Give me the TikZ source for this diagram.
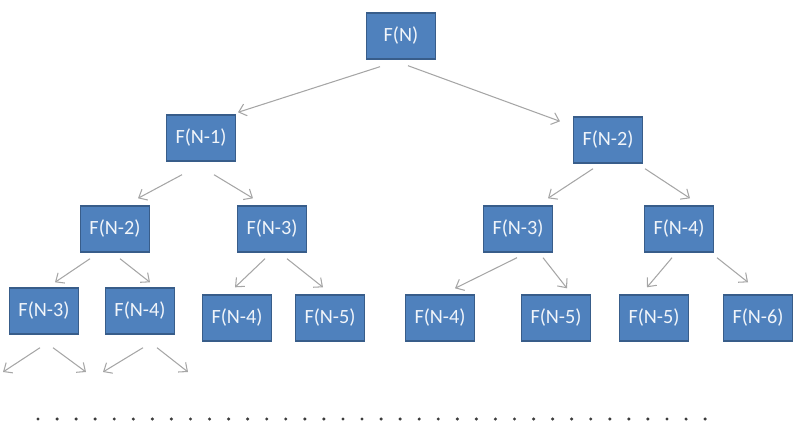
\documentclass[tikz,border=0pt]{standalone}
\usepackage{fontspec}
\setmainfont{Carlito}
\usetikzlibrary{arrows.meta,calc}
\definecolor{boxblue}{HTML}{4F81BD}
\definecolor{boxedge}{HTML}{385D8A}
\definecolor{arrgray}{HTML}{A6A6A6}
\definecolor{dotgray}{HTML}{3C3C3C}

\begin{document}
\begin{tikzpicture}[x=0.02cm, y=-0.02cm,
  call/.style={draw=boxedge, fill=boxblue, line width=0.8pt, text=white!92!boxblue, font=\fontsize{11.5}{13}\selectfont, minimum width=1.38cm, minimum height=0.92cm, inner sep=0pt},
  arr/.style={draw=arrgray, line width=0.6pt, -{Straight Barb[length=4pt,width=7pt]}}
]
\useasboundingbox (0,0) rectangle (800,436);

% call tree
\node[call] (fN) at (401,36) {F(N)};
\node[call] (fN1) at (201,138) {F(N-1)};
\node[call] (fN2) at (608,140) {F(N-2)};
\node[call] (fA2) at (115,229) {F(N-2)};
\node[call] (fA3) at (272,229) {F(N-3)};
\node[call] (fB3) at (518,229) {F(N-3)};
\node[call] (fB4) at (679,229) {F(N-4)};
\node[call] (fC3) at (44,311) {F(N-3)};
\node[call] (fC4) at (140,311) {F(N-4)};
\node[call] (fD4) at (237,318) {F(N-4)};
\node[call] (fD5) at (330,318) {F(N-5)};
\node[call] (fE4) at (440,318) {F(N-4)};
\node[call] (fE5) at (556,318) {F(N-5)};
\node[call] (fF5) at (654,318) {F(N-5)};
\node[call] (fF6) at (758,318) {F(N-6)};

\coordinate (c1) at (3,372);
\coordinate (c2) at (86,372);
\coordinate (c3) at (103,372);
\coordinate (c4) at (188,372);

\draw[arr] ($(fN.south)+(-21,7)$) -- ($(fN1.north)+(37,-2)$);
\draw[arr] ($(fN.south)+(7,6)$) -- ($(fN2.north)+(-48,5)$);
\draw[arr] ($(fN1.south)+(-19,13)$) -- ($(fA2.north)+(23,-7)$);
\draw[arr] ($(fN1.south)+(13,13)$) -- ($(fA3.north)+(-19,-7)$);
\draw[arr] ($(fN2.south)+(-15,5)$) -- ($(fB3.north)+(30,-7)$);
\draw[arr] ($(fN2.south)+(37,5)$) -- ($(fB4.north)+(11,-7)$);
\draw[arr] ($(fA2.south)+(-25,6)$) -- ($(fC3.north)+(11,-5)$);
\draw[arr] ($(fA2.south)+(5,6)$) -- ($(fC4.north)+(10,-5)$);
\draw[arr] ($(fA3.south)+(-7,6)$) -- ($(fD4.north)+(-2,-7)$);
\draw[arr] ($(fA3.south)+(15,6)$) -- ($(fD5.north)+(-7,-7)$);
\draw[arr] ($(fB3.south)+(-1,5)$) -- ($(fE4.north)+(15,-6)$);
\draw[arr] ($(fB3.south)+(25,5)$) -- ($(fE5.north)+(11,-6)$);
\draw[arr] ($(fB4.south)+(-7,5)$) -- ($(fF5.north)+(-7,-7)$);
\draw[arr] ($(fB4.south)+(38,5)$) -- ($(fF6.north)+(-10,-12)$);
\draw[arr] ($(fC3.south)+(-4,13)$) -- (c1);
\draw[arr] ($(fC3.south)+(9,13)$) -- (c2);
\draw[arr] ($(fC4.south)+(3,13)$) -- (c3);
\draw[arr] ($(fC4.south)+(17,13)$) -- (c4);

% dotted line at the bottom
\foreach \i in {0,...,35}
  \fill[dotgray] (38+\i*19.06,419) circle (1.7);
\end{tikzpicture}
\end{document}
